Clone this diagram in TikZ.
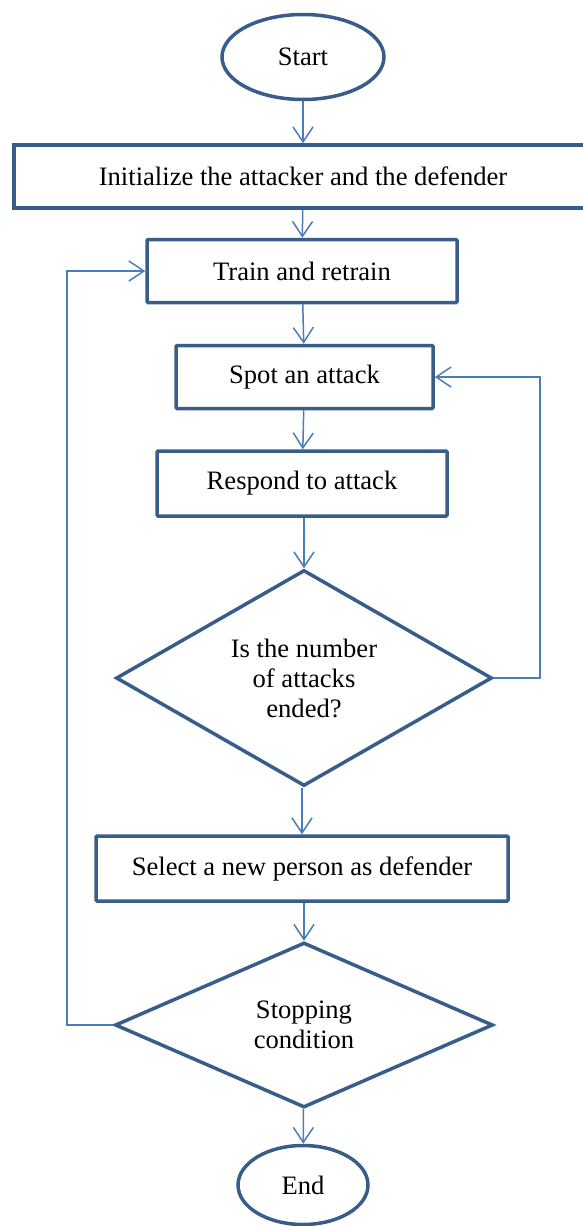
\documentclass[tikz,border=0pt]{standalone}
\usepackage{fontspec}
\setmainfont{Liberation Serif}
\usetikzlibrary{shapes.geometric,arrows.meta}

\definecolor{boxblue}{RGB}{56,93,138}
\definecolor{lineblue}{RGB}{74,126,187}

\begin{document}
\begin{tikzpicture}[x=1pt,y=-1pt]
		\useasboundingbox (0,0) rectangle (583,1226);

		\begin{scope}[every node/.style={draw=boxblue,line width=3.5pt,inner sep=0pt,font=\fontsize{26.6}{30}\selectfont,align=center}]
			\node[ellipse,minimum width=162,minimum height=85] (start) at (303,57) {Start};
			\node[rectangle,minimum width=578,minimum height=63] (init) at (303,176.5) {Initialize the attacker and the defender};
			\node[rectangle,rounded corners=1pt,minimum width=310,minimum height=63] (train) at (302,271) {Train and retrain};
			\node[rectangle,rounded corners=1pt,minimum width=257,minimum height=63] (spot) at (304.5,377) {Spot an attack};
			\node[rectangle,rounded corners=1pt,minimum width=290,minimum height=65] (respond) at (302,483.5) {Respond to attack};
			\node[diamond,aspect=1.74,minimum width=376,minimum height=216] (ended) at (304,678) {Is the number\\of attacks\\ended?};
			\node[rectangle,rounded corners=1pt,minimum width=412,minimum height=65] (select) at (302,868.5) {Select a new person as defender};
			\node[diamond,aspect=2.3,minimum width=378,minimum height=165] (stop) at (304,1025) {Stopping\\condition};
			\node[ellipse,minimum width=130,minimum height=79] (end) at (303,1185) {End};
		\end{scope}

		\coordinate (L) at (67,1025);
		\coordinate (R) at (540,678);

		\begin{scope}[every edge/.style={draw=lineblue,line width=1.5pt}]
			\path [-{Straight Barb[length=15pt,width=20pt]}] (start) edge (init);
			\path [-{Straight Barb[length=15pt,width=20pt]}] (init) edge (train);
			\path [-{Straight Barb[length=15pt,width=20pt]}] (train) edge (spot);
			\path [-{Straight Barb[length=15pt,width=20pt]}] (spot) edge (respond);
			\path [-{Straight Barb[length=15pt,width=20pt]}] (respond.south -| ended.north) edge (ended.north);
			\path [-{Straight Barb[length=15pt,width=20pt]}] (ended.south -| select.north) edge (select.north);
			\path [-{Straight Barb[length=15pt,width=20pt]}] (select.south -| stop.north) edge (stop.north);
			\path [-{Straight Barb[length=15pt,width=20pt]}] (stop) edge (end);
		\end{scope}

		\draw [draw=lineblue,line width=1.5pt,-{Straight Barb[length=15pt,width=20pt]}] (stop.west) -- (L) |- (train.west);
		\draw [draw=lineblue,line width=1.5pt,-{Straight Barb[length=15pt,width=20pt]}] (ended.east) -- (R) |- (spot.east);

\end{tikzpicture}
\end{document}
